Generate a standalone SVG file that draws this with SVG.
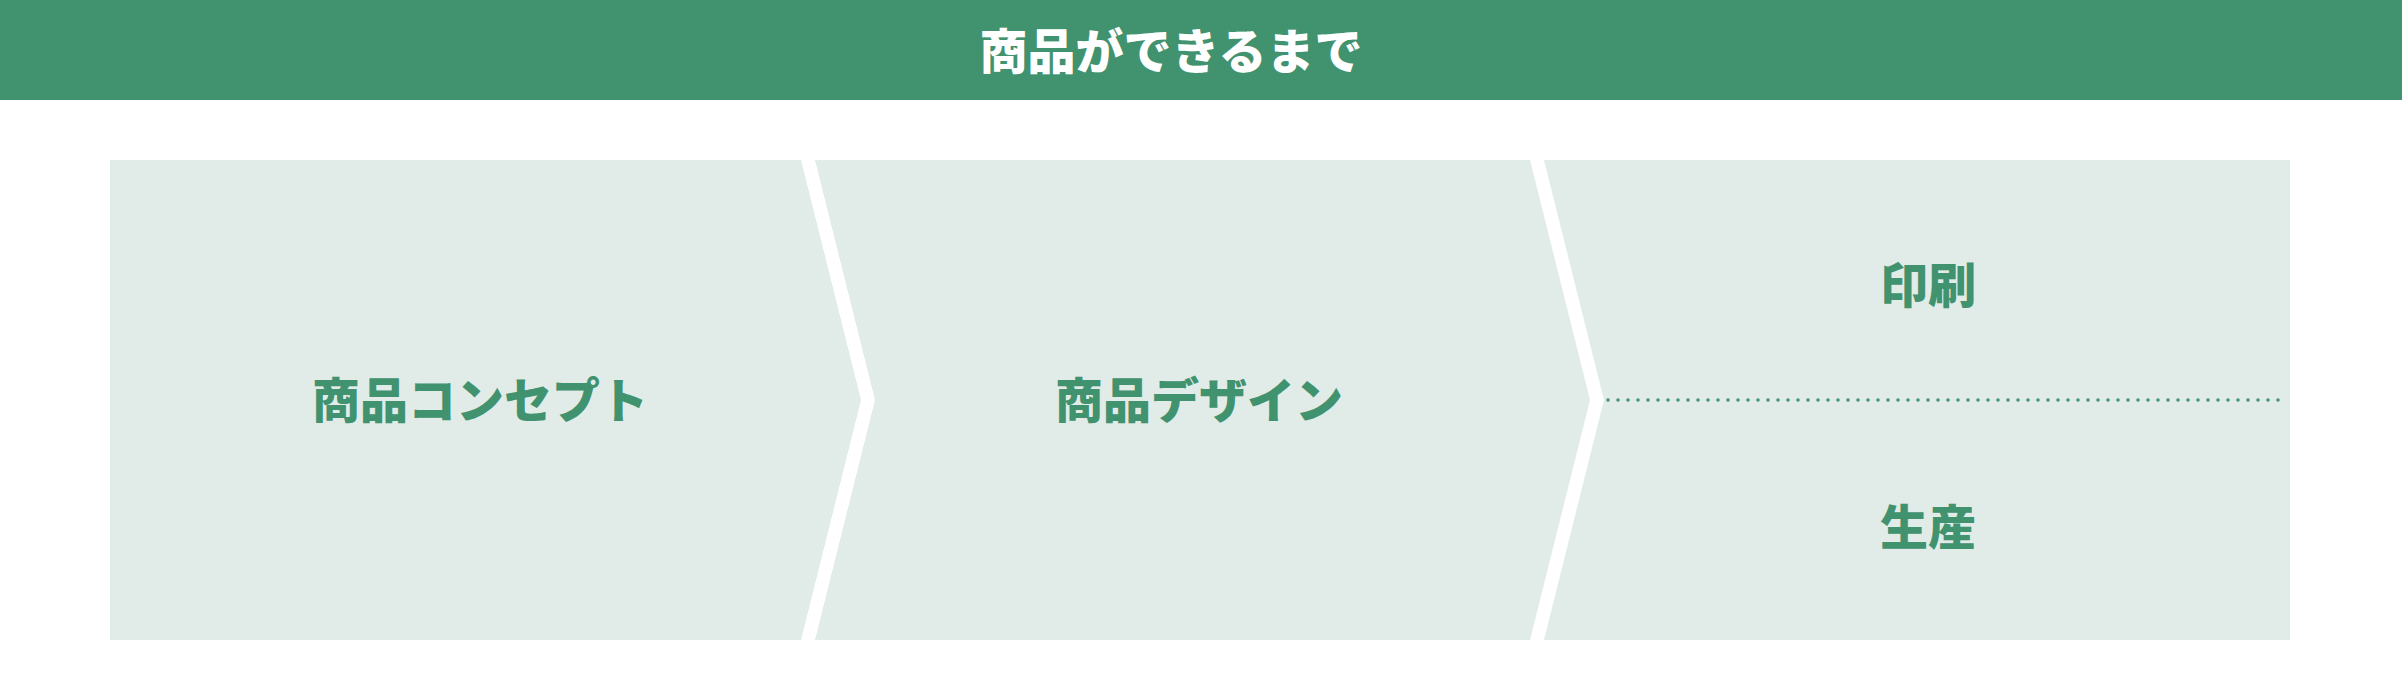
<svg xmlns="http://www.w3.org/2000/svg" width="2402" height="700" viewBox="0 0 2402 700">
<style>
.box{fill:#E1EBE8}
.lbl{font-family:"Noto Sans CJK JP","Noto Sans CJK SC",sans-serif;font-weight:900;font-size:48px;fill:#41926F;text-anchor:middle}
.ttl{font-family:"Noto Sans CJK JP","Noto Sans CJK SC",sans-serif;font-weight:900;font-size:48px;fill:#FFFFFF;text-anchor:middle}
.dot{stroke:#41926F;stroke-width:3.5;stroke-linecap:round;stroke-dasharray:0 10;fill:none}
</style>
<rect width="2402" height="700" fill="#FFFFFF"/>
<g id="header">
<rect x="0" y="0" width="2402" height="100" fill="#41926F"/>
<text class="ttl" x="1171" y="69">商品ができるまで</text>
</g>
<g id="concept">
<polygon class="box" points="110,160 801,160 861,400 801,640 110,640"/>
<text class="lbl" x="480" y="418">商品コンセプト</text>
</g>
<g id="design">
<polygon class="box" points="815,160 1530,160 1590,400 1530,640 815,640 875,400"/>
<text class="lbl" x="1199" y="418">商品デザイン</text>
</g>
<g id="production">
<polygon class="box" points="1544,160 2290,160 2290,640 1544,640 1604,400"/>
<text class="lbl" x="1928" y="303">印刷</text>
<text class="lbl" x="1928" y="545">生産</text>
</g>
<g id="connectors">
<line class="dot" x1="1608" y1="400" x2="2288" y2="400"/>
</g>
</svg>
